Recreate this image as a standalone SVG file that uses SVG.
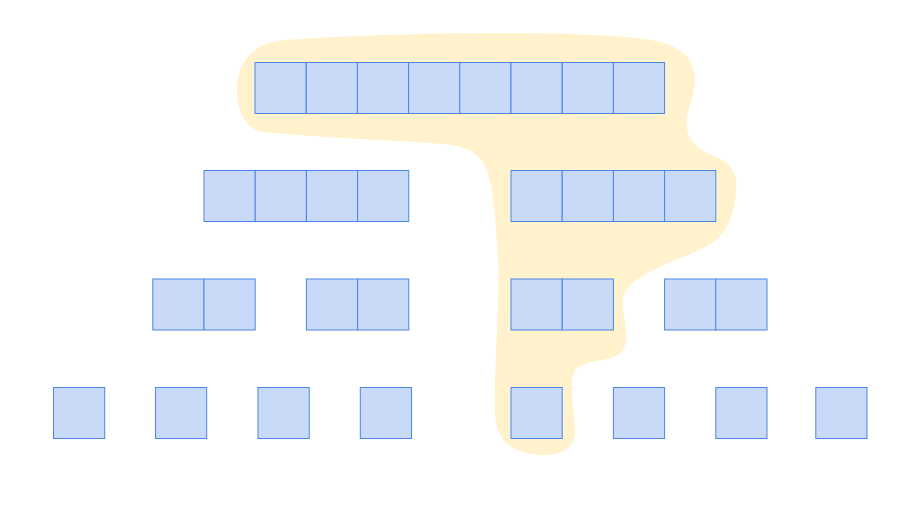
<svg xmlns="http://www.w3.org/2000/svg" width="918" height="517" viewBox="0 0 918 517">
<style>
.c{fill:#c9daf8;stroke:#4a86e8;stroke-width:1}
.blob{fill:#fff2cc;stroke:none}
</style>
<rect width="918" height="517" fill="#ffffff"/>
<path id="highlight" class="blob" d="M237,90 C237,60 255,42 285,40 C380,33 600,28 660,42 C700,52 698,80 690,105 C682,130 688,145 712,155 C738,165 738,180 735,200 C730,235 715,245 680,258 C640,275 622,285 623,305 C624,325 632,345 618,355 C605,362 580,360 574,372 C568,385 576,420 575,435 C572,452 555,456 538,455 C510,452 497,440 495,415 C494,370 500,300 498,260 C496,220 493,190 487,170 C478,148 460,145 430,143 C380,140 300,136 262,132 C245,128 237,112 237,90 Z"/>
<g id="row1">
<rect class="c" x="255" y="62.5" width="51.2" height="51"/>
<rect class="c" x="306.2" y="62.5" width="51.2" height="51"/>
<rect class="c" x="357.4" y="62.5" width="51.2" height="51"/>
<rect class="c" x="408.6" y="62.5" width="51.2" height="51"/>
<rect class="c" x="459.8" y="62.5" width="51.2" height="51"/>
<rect class="c" x="511" y="62.5" width="51.2" height="51"/>
<rect class="c" x="562.2" y="62.5" width="51.2" height="51"/>
<rect class="c" x="613.4" y="62.5" width="51.2" height="51"/>
</g>
<g id="row2-left">
<rect class="c" x="204" y="170.5" width="51.2" height="51"/>
<rect class="c" x="255.2" y="170.5" width="51.2" height="51"/>
<rect class="c" x="306.4" y="170.5" width="51.2" height="51"/>
<rect class="c" x="357.6" y="170.5" width="51.2" height="51"/>
</g>
<g id="row2-right">
<rect class="c" x="511" y="170.5" width="51.2" height="51"/>
<rect class="c" x="562.2" y="170.5" width="51.2" height="51"/>
<rect class="c" x="613.4" y="170.5" width="51.2" height="51"/>
<rect class="c" x="664.6" y="170.5" width="51.2" height="51"/>
</g>
<g id="row3-a">
<rect class="c" x="152.8" y="279" width="51.2" height="51"/>
<rect class="c" x="204" y="279" width="51.2" height="51"/>
</g>
<g id="row3-b">
<rect class="c" x="306.4" y="279" width="51.2" height="51"/>
<rect class="c" x="357.6" y="279" width="51.2" height="51"/>
</g>
<g id="row3-c">
<rect class="c" x="511" y="279" width="51.2" height="51"/>
<rect class="c" x="562.2" y="279" width="51.2" height="51"/>
</g>
<g id="row3-d">
<rect class="c" x="664.6" y="279" width="51.2" height="51"/>
<rect class="c" x="715.8" y="279" width="51.2" height="51"/>
</g>
<g id="row4-1"><rect class="c" x="53.5" y="387.5" width="51.2" height="51"/></g>
<g id="row4-2"><rect class="c" x="155.5" y="387.5" width="51.2" height="51"/></g>
<g id="row4-3"><rect class="c" x="258" y="387.5" width="51.2" height="51"/></g>
<g id="row4-4"><rect class="c" x="360.3" y="387.5" width="51.2" height="51"/></g>
<g id="row4-5"><rect class="c" x="511" y="387.5" width="51.2" height="51"/></g>
<g id="row4-6"><rect class="c" x="613.4" y="387.5" width="51.2" height="51"/></g>
<g id="row4-7"><rect class="c" x="715.8" y="387.5" width="51.2" height="51"/></g>
<g id="row4-8"><rect class="c" x="815.8" y="387.5" width="51.2" height="51"/></g>
<g id="connectors"></g>
</svg>
